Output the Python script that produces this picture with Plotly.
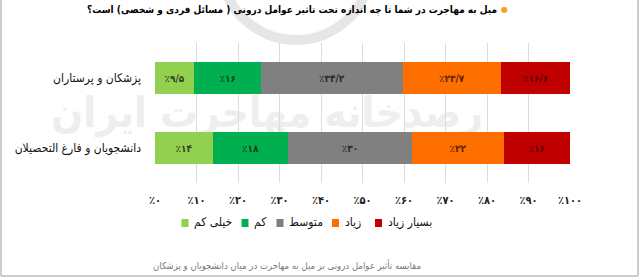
import plotly.graph_objects as go

# ---- data ----
categories = ["دانشجویان و فارغ التحصیلان", "پزشکان و پرستاران"]
series_names = ["خیلی کم", "کم", "متوسط", "زیاد", "بسیار زیاد"]
values_students = [14, 18, 30, 22, 16]
values_doctors = [9.5, 16, 34.2, 23.7, 16.6]
tick_values = [0, 10, 20, 30, 40, 50, 60, 70, 80, 90, 100]
title_text = "میل به مهاجرت در شما تا چه اندازه تحت تاثیر عوامل درونی ( مسائل فردی و شخصی) است؟"
caption_text = "مقایسه تأثیر عوامل درونی بر میل به مهاجرت در میان دانشجویان و پزشکان"
watermark_text = "رصدخانه مهاجرت ایران"

colors = ["#92D050", "#00B050", "#808080", "#FF6F00", "#C00000"]
text_colors = ["#34461c", "#163d20", "#2a2a2a", "#5c2400", "#560000"]

FA = str.maketrans("0123456789.", "۰۱۲۳۴۵۶۷۸۹/")


def fa_pct(v):
    return "٪" + f"{v:g}".translate(FA)


W, H = 640, 278
L, R, T, B = 155, 570, 43, 183


def px(x):
    return (x - L) / (R - L)


def py(y):
    return (B - y) / (B - T)


FONT = "DejaVu Sans"
FONTC = "DejaVu Sans Condensed, DejaVu Sans"

fig = go.Figure()
for i, name in enumerate(series_names):
    vals = [values_students[i], values_doctors[i]]
    fig.add_trace(go.Bar(
        y=categories, x=vals, name=name, orientation="h",
        marker=dict(color=colors[i], line=dict(width=0)),
        text=[fa_pct(v) for v in vals], textposition="inside",
        insidetextanchor="middle", textangle=0,
        textfont=dict(family=FONTC, size=10, color=text_colors[i], weight="bold"),
        hoverinfo="skip", showlegend=False,
    ))

fig.update_layout(
    width=W, height=H, barmode="stack", bargap=0.53,
    margin=dict(l=L, r=W - R, t=T, b=H - B, autoexpand=False),
    paper_bgcolor="white", plot_bgcolor="rgba(0,0,0,0)",
    font=dict(family=FONT, color="#222"),
    showlegend=False,
    xaxis=dict(range=[0, 100], tickvals=tick_values, ticktext=[fa_pct(v) for v in tick_values],
               showgrid=True, gridcolor="#dcdcdc", gridwidth=1, zeroline=False,
               showline=False, ticks="", ticklabelstandoff=9, automargin=False,
               tickfont=dict(family=FONTC, size=11, color="#222", weight="bold"), fixedrange=True),
    yaxis=dict(showgrid=False, zeroline=False, showline=False, ticks="", automargin=False,
               ticklabelstandoff=13, tickfont=dict(family=FONTC, size=12, color="#111"),
               fixedrange=True),
)

# faint watermark behind the chart
fig.add_shape(type="circle", xref="paper", yref="paper", layer="below",
              x0=px(221), x1=px(371), y0=py(40), y1=py(-110),
              line=dict(color="#e6e6e6", width=10), fillcolor="rgba(0,0,0,0)")
fig.add_shape(type="rect", xref="paper", yref="paper", layer="below",
              x0=px(19), x1=px(515), y0=py(140), y1=py(80),
              line=dict(width=0), fillcolor="rgba(0,0,0,0)",
              label=dict(text=watermark_text, textposition="middle center",
                         font=dict(family=FONTC, size=42, color="#eeeeee", weight="bold")))

# legend (swatch left of text), laid out as in the original
legend_x = [185, 245, 280, 335.5, 378.5]
for name, col, lx in zip(series_names, colors, legend_x):
    fig.add_shape(type="rect", xref="paper", yref="paper",
                  x0=px(lx - 3.5), x1=px(lx + 3.5), y0=py(227), y1=py(219),
                  line=dict(width=0), fillcolor=col)
    fig.add_annotation(x=px(lx + 7), y=py(222), xref="paper", yref="paper", xanchor="left",
                       yanchor="middle", showarrow=False, text=name,
                       font=dict(family=FONTC, size=12, color="#111"))

fig.add_annotation(x=px(499), y=py(10), xref="paper", yref="paper", xanchor="right",
                   yanchor="middle", showarrow=False, text=title_text + "\u200f",
                   font=dict(family=FONTC, size=10, color="#000", weight="bold"))
fig.add_annotation(x=px(504), y=py(10), xref="paper", yref="paper", xanchor="center",
                   yanchor="middle", showarrow=False, text="●",
                   font=dict(family=FONT, size=8, color="#F5A21F"))
fig.add_annotation(x=px(287), y=py(265), xref="paper", yref="paper", xanchor="center",
                   yanchor="middle", showarrow=False, text=caption_text,
                   font=dict(family=FONTC, size=9.5, color="#777"))

for (x0, y0, x1, y1) in [(1, 0, 1, 276), (638, 0, 638, 276), (1, 276, 638, 276)]:
    fig.add_shape(type="line", xref="paper", yref="paper", x0=px(x0), y0=py(y0),
                  x1=px(x1), y1=py(y1), line=dict(color="#9a9a9a", width=1))

fig.write_html("out.html")
